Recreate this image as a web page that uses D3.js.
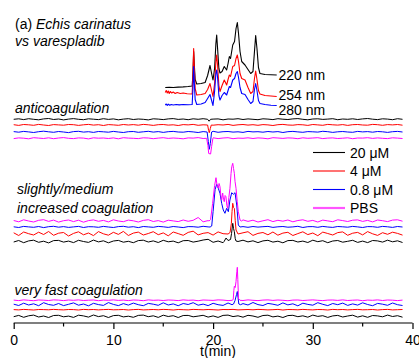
<!DOCTYPE html>
<html><head><meta charset="utf-8">
<script src="https://cdn.jsdelivr.net/npm/d3@7"></script>
<style>
html,body{margin:0;padding:0;background:#fff;}
svg{display:block;font-family:"Liberation Sans",Arial,sans-serif;}
</style></head><body>
<svg id="c" width="419" height="358"></svg>
<script>
// ---------- DATA ----------
const xTicks = [0, 10, 20, 30, 40];
const xMinorTicks = [5, 15, 25, 35];
const step = 0.5; // sampling interval (min) of baseline records
const nSamples = 79; // 0 .. 39 min

// UV chromatograms (time, absorbance a.u.)
const uv220 = [[15.2,236],[15.6,236.3],[16,236],[16.5,236.4],[17,236.6],[17.5,237],[17.9,237.5],[17.98,250],[18.05,272],[18.12,258],[18.2,244],[18.36,239.5],[18.8,240],[19.2,241],[19.45,248],[19.69,258],[19.85,250],[19.99,243.5],[20.15,255],[20.28,280],[20.36,288.5],[20.45,275],[20.58,255],[20.69,250.5],[20.9,252],[21.12,257],[21.36,253.5],[21.5,260],[21.63,267],[21.75,265],[21.97,278.5],[22.15,282],[22.3,295],[22.43,301],[22.55,290],[22.7,272],[22.87,262],[23.2,258.5],[23.5,254],[23.77,250],[24.0,252],[24.15,272],[24.27,288],[24.4,275],[24.55,256],[24.7,250],[25.2,249],[25.8,248.8],[26.38,248.5]];
const uv254 = [[15.2,231],[15.3,233],[15.4,230.5],[15.5,232.5],[15.6,230],[15.7,232],[15.85,230.5],[16,231.5],[16.2,230],[16.4,231],[16.7,230],[17,230.5],[17.4,229.8],[17.9,229.5],[17.98,250],[18.05,275],[18.12,255],[18.2,235],[18.36,228.5],[18.8,229],[19.2,230],[19.45,234],[19.69,240],[19.85,233],[19.99,227],[20.15,240],[20.28,262],[20.36,268.5],[20.45,258],[20.58,238],[20.69,232],[20.9,238],[21.12,243.5],[21.36,238.5],[21.5,244],[21.63,248.5],[21.75,247],[21.97,257],[22.15,258],[22.3,265],[22.43,268.5],[22.55,262],[22.7,250],[22.87,245],[23.2,243.5],[23.5,236],[23.77,230],[24.0,232],[24.15,245],[24.27,252.5],[24.4,244],[24.55,233],[24.7,229.5],[25.2,228],[25.8,227.5],[26.38,227]];
const uv280 = [[15.2,218.5],[15.3,219.5],[15.4,218],[15.5,219.3],[15.65,218.2],[15.8,219],[16,218.5],[16.3,219],[16.6,218.6],[17,219],[17.5,218.8],[17.9,219],[17.98,235],[18.05,257],[18.12,240],[18.2,224],[18.36,219],[18.8,219.5],[19.2,221],[19.45,225],[19.69,229],[19.85,223],[19.99,218],[20.15,232],[20.28,250],[20.36,253.5],[20.45,246],[20.58,228],[20.69,223.5],[20.9,228],[21.12,231],[21.36,228.5],[21.5,233],[21.63,237],[21.75,236],[21.97,243.5],[22.15,245],[22.3,250],[22.43,252],[22.55,246],[22.7,236],[22.87,230],[23.2,229],[23.5,224],[23.77,220],[24.0,222],[24.15,234],[24.27,240],[24.4,233],[24.55,223],[24.7,220],[25.2,219],[25.8,218.3],[26.38,218]];
const uvLabels = ["220 nm", "254 nm", "280 nm"];

// Bioassay traces: baseline level, recorded fluctuations (every 0.5 min), and peak region records
const concLabels = ["20 \u03bcM", "4 \u03bcM", "0.8 \u03bcM", "PBS"];

// anticoagulation group
const antiLevels = [204.2, 198.5, 191.5, 185.2];
const antiNoiseK = [0,0.5,-0.3,0.6,0,-0.5,0.4,0.8,-0.2,0.3,-0.6,0.2,0.7,0,-0.4,0.5,0.1,-0.3,0.6,-0.1,0.4,-0.5,0.2,0.6,-0.2,0.3,0,-0.6,0.5,0.2,-0.3,0.4,0.7,-0.1,0.3,-0.4,0.5,0,0.6,-0.3,0.2,0.4,-0.5,0.3,0.1,0.6,-0.2,0.4,0,-0.4,0.5,0.2,-0.3,0.6,0.1,-0.2,0.4,0.7,0,-0.5,0.3,0.5,-0.1,0.2,0.6,-0.4,0.3,0,0.5,-0.2,0.4,0.8,0.1,-0.3,0.5,0.2,-0.4,0.6,0,0.3];
const antiNoiseR = [0.3,-0.4,0.5,0.2,-0.3,0.6,0,-0.5,0.4,0.1,-0.2,0.5,0.3,-0.4,0.2,0.6,-0.1,0.3,-0.5,0.4,0.1,-0.3,0.5,0,0.4,-0.2,0.6,0.2,-0.4,0.3,0.5,-0.1,0.2,-0.5,0.4,0.1,0.6,-0.3,0.2,0.5,-0.2,0.3,0,0.6,-0.4,0.2,0.5,-0.1,0.3,-0.3,0.4,0.1,-0.5,0.3,0.6,0,-0.2,0.4,0.2,-0.4,0.5,0.1,-0.3,0.6,0.2,-0.1,0.4,-0.4,0.3,0.5,0,-0.2,0.6,0.3,-0.3,0.4,0.1,0.5,-0.2,0.2];
const antiNoiseB = [0.4,-0.2,0.6,0.1,-0.5,0.3,0.8,0.2,-0.3,0.5,0,-0.6,0.4,0.7,-0.1,0.3,-0.4,0.5,0.2,-0.2,0.6,0,-0.5,0.3,0.5,-0.3,0.2,0.7,-0.1,0.4,-0.4,0.3,0.6,0,-0.2,0.5,0.1,-0.5,0.4,0.2,0.7,-0.3,0.3,0.5,-0.1,0.2,-0.4,0.6,0.1,0.3,-0.2,0.5,0,0.4,-0.5,0.3,0.6,0.1,-0.3,0.4,0.2,-0.1,0.7,0.3,-0.4,0.2,0.5,0,-0.3,0.6,0.1,0.4,-0.2,0.5,0.2,-0.4,0.3,0.6,0,0.2];
const antiNoiseM = [-0.3,0.4,0.1,-0.5,0.6,0.2,-0.2,0.5,-0.4,0.3,0.7,0,-0.3,0.4,0.2,-0.6,0.5,0.1,0.3,-0.2,0.4,-0.5,0.6,0.2,0,-0.3,0.5,0.3,-0.4,0.2,0.6,-0.1,0.3,0,-0.5,0.4,0.2,0.7,-0.2,0.1,0.5,-0.3,0.3,0.6,-0.4,0.2,0,0.5,-0.2,0.4,0.1,-0.5,0.6,0.3,-0.1,0.4,0.2,-0.4,0.5,0,0.3,0.6,-0.3,0.2,0.4,-0.2,0.1,0.5,-0.4,0.3,0.2,0.6,-0.1,0.4,0,-0.3,0.5,0.2,-0.2,0.4];
const antiPeakK = [[19.45,204.2],[19.6,202.3],[19.75,204.2]];
const antiPeakR = [[19.45,198.5],[19.55,193],[19.62,190.8],[19.72,195],[19.82,198.5]];
const antiPeakB = [[19.4,191.5],[19.52,182],[19.62,174.2],[19.72,180],[19.85,191.5]];
const antiPeakM = [[19.35,185.2],[19.48,178],[19.56,170],[19.75,169.5],[19.85,177],[19.98,185.2]];

// slightly/medium increased coagulation group
const midLevels = [82, 89.5, 96.5, 102.5];
const midNoiseK = [-0.5,1,-1.2,0.6,1.3,-0.8,0.3,-1.4,0.9,1.1,-0.6,0.4,-1.1,1.2,0,-0.9,1.4,-0.4,0.7,-1.3,0.5,1.1,-0.7,0.2,-1.2,0.9,1.3,-0.5,0.6,-1,1.2,-0.3,0.4,-1.3,0.8,1,-0.6,0.3,1.5,2.2,-0.8,0.5,-1.2,1,0.2,-0.9,1.3,-0.4,0.7,-1.1,0.6,1.2,-0.6,0.3,-1.3,0.9,1.1,-0.5,0.4,-1,1.3,-0.2,0.8,-1.2,0.5,1,-0.7,0.2,1.2,-0.9,0.4,-1.1,1,0.6,-0.6,1.3,-0.3,0.7,-1,0.5];
const midNoiseR = [1.2,-1.5,2,0.3,-1,1.8,-0.5,2.5,-1.3,0.8,1.5,-2,0.6,2.2,-0.8,1,-1.6,2.4,0.2,-1.2,1.7,-0.4,2.6,-1.5,0.9,1.9,-1,0.5,2.3,-0.7,1.1,-1.8,2,0.4,-1.3,1.6,2.8,-0.9,0.7,1.4,-1.1,2.1,0.3,-1.6,1.8,-0.5,1.2,2.3,-1.4,0.6,1.5,-0.8,2,-1.2,0.9,1.7,-1.5,0.4,2.2,-0.6,1,-1.7,1.9,0.5,-1,1.4,2.1,-1.3,0.8,1.6,-0.9,2.4,0.2,-1.4,1.3,-0.3,1.8,0.6,-1.1,1];
const midNoiseB = [0.2,-0.5,0.6,0.1,-0.3,0.5,-0.6,0.3,0.7,-0.2,0.4,-0.4,0.1,0.6,-0.5,0.3,0.2,-0.3,0.6,0,-0.5,0.4,0.7,-0.2,0.3,-0.6,0.5,0.1,-0.3,0.6,0.2,-0.4,0.5,0,-0.6,0.4,0.3,-0.2,0.7,0.1,-0.3,0.5,0.2,-0.5,0.6,0,0.4,-0.3,0.5,-0.1,0.3,0.6,-0.4,0.2,0.5,-0.2,0.1,0.7,-0.5,0.3,0.4,-0.3,0.6,0,-0.4,0.5,0.2,-0.2,0.6,0.1,-0.5,0.4,0.3,-0.3,0.6,0.2,-0.4,0.5,0,0.3];
const midNoiseM = [0.5,-0.8,1.2,0,-1,0.7,1.3,-0.4,0.9,-1.1,0.3,1,-0.6,0.8,-1.2,0.4,1.1,-0.3,0.6,-0.9,1.2,0,-0.7,0.9,0.2,-1,0.6,1.3,-0.5,0.4,-1.1,0.8,0.1,-0.6,1,-0.3,0.7,3.5,-0.8,0.4,0.9,-0.5,1.2,0.3,-0.9,0.6,1.1,-0.4,0.8,-1,0.2,1.3,-0.6,0.7,-0.2,1,-0.8,0.5,1.2,-0.3,0.6,-1,0.9,0.1,-0.7,1.2,0.4,-0.5,0.8,1.1,-0.4,0.6,-0.9,1,0.3,-0.6,0.9,1.2,-0.2,0.5];
const midPeakK = [[21.1,82],[21.3,85.5],[21.5,83],[21.75,84],[21.85,90],[21.97,100.2],[22.05,95],[22.13,91.8],[22.22,85],[22.3,82.5],[22.5,82]];
const midPeakR = [[21.5,89.5],[21.7,91],[21.83,100],[21.9,112],[21.97,120.2],[22.05,116],[22.13,115.2],[22.22,103],[22.3,93.5],[22.5,89.5]];
const midPeakB = [[19.7,96.5],[19.86,97.5],[20.0,112],[20.2,134],[20.36,139.2],[20.52,135.2],[20.69,130.2],[20.86,120.2],[21.02,113.5],[21.19,110.2],[21.36,115.2],[21.53,111.8],[21.69,123.5],[21.87,130.8],[22.03,129.2],[22.2,130.8],[22.37,118.5],[22.53,98.5],[22.7,96.5]];
const midPeakM = [[19.6,102.5],[19.75,104],[19.95,120],[20.15,138],[20.29,145.8],[20.4,138],[20.52,135.5],[20.6,140],[20.69,136.8],[20.78,128],[20.86,123.5],[20.96,130.5],[21.05,124],[21.12,121.8],[21.2,128],[21.29,126.8],[21.38,118],[21.46,115.2],[21.58,126],[21.69,135.2],[21.8,150],[21.87,156.8],[21.97,160.2],[22.05,155],[22.13,150.2],[22.2,142],[22.3,135.2],[22.42,122],[22.53,111.8],[22.7,103.5],[22.85,102.5]];

// very fast coagulation group
const fastLevels = [7.2, 13.8, 18.8, 23.2];
const fastNoiseK = [-0.4,0.9,-1,0.5,1.2,-0.7,0.3,-1.2,0.8,1,-0.5,0.2,-1.1,1.1,0.4,-0.8,1.3,-0.3,0.6,-1.2,0.7,1,-0.6,0.1,-1,0.9,1.2,-0.4,0.5,-1.1,1.1,-0.2,0.6,-1.2,0.8,0.9,-0.5,0.2,1,-0.8,0.4,-1.1,0.9,1.2,-0.3,0.5,-0.9,1,0.3,-1,0.8,1.1,-0.6,0.2,-1.2,0.7,1,-0.4,0.5,-0.9,1.2,-0.1,0.6,-1.1,0.4,0.9,-0.7,0.3,1.1,-0.8,0.5,-1,0.8,0.4,-0.5,1.2,-0.2,0.6,-0.9,0.3];
const fastNoiseR = [0.1,-0.2,0.3,0,-0.3,0.2,0.1,-0.1,0.3,0,-0.2,0.2,0.1,-0.3,0.3,0,0.2,-0.2,0.1,0.3,-0.1,0,0.2,-0.3,0.1,0.3,-0.2,0,0.2,-0.1,0.3,0.1,-0.3,0.2,0,-0.2,0.3,0.1,-0.1,0.2,0,-0.3,0.2,0.1,0.3,-0.2,0,0.2,-0.1,0.3,0.1,-0.2,0,0.3,-0.3,0.2,0.1,-0.1,0.3,0,-0.2,0.2,0.1,-0.3,0.3,0,0.2,-0.2,0.1,0.3,-0.1,0,0.2,-0.3,0.1,0.3,-0.2,0,0.2,-0.1];
const fastNoiseB = [0.5,-0.8,1.5,-0.3,0.9,-1,2,0.2,-0.6,1.2,-0.9,0.4,1.8,-0.5,0.7,-1.1,1.4,0.1,-0.7,2.1,0.3,-0.9,1.1,-0.4,1.6,0,-1,1.3,0.5,-0.6,1.9,-0.3,0.8,-1,1.2,0.2,2,-0.5,0.6,-0.9,1.4,0,-0.7,1.7,0.4,-1,1.1,-0.3,2.2,0.1,-0.8,1.3,0.5,-0.6,1.8,-0.2,0.9,-1.1,1.5,0.3,-0.5,2,0.4,-0.9,1.2,0,1.6,-0.7,0.8,-0.4,1.9,0.2,-1,1.3,0.5,-0.6,1.7,0,-0.8,1];
const fastNoiseM = [0.2,-0.3,0.4,0,-0.4,0.3,0.1,-0.2,0.4,0.2,-0.3,0.3,0,0.4,-0.2,0.1,0.3,-0.4,0.2,0,0.4,-0.1,0.2,-0.3,0.3,0.1,-0.4,0.4,0,0.2,-0.2,0.3,0.1,-0.3,0.4,0,0.2,-0.4,0.3,0.1,-0.1,0.4,0.2,-0.3,0.1,0.3,-0.2,0.4,0,-0.3,0.2,0.4,-0.1,0.3,0,-0.4,0.2,0.3,-0.2,0.1,0.4,0,-0.3,0.2,0.3,-0.1,0.4,-0.2,0.1,0.3,-0.4,0.2,0,0.4,-0.2,0.3,0.1,-0.3,0.2,0];
const fastPeakK = [];
const fastPeakR = [];
const fastPeakB = [[21.9,18.8],[22.05,19.5],[22.2,23],[22.35,29],[22.43,32],[22.5,26],[22.58,19.5],[22.75,18.8]];
const fastPeakM = [[21.9,23.2],[22.02,24],[22.08,33],[22.13,37.2],[22.22,36],[22.3,42],[22.38,52],[22.43,56.2],[22.48,44],[22.55,25],[22.7,23.2]];

// ---------- DRAWING ----------
const svg = d3.select("#c");
const x = d3.scaleLinear().domain([0, 40]).range([13.7, 412.5]);
const y = d3.scaleLinear().domain([0, 300]).range([323.5, 23.5]);
const colors = ["#000000", "#ff0000", "#0000ff", "#ff00ff"];
const line = d3.line().x(d => x(d[0])).y(d => y(d[1]));

function buildTrace(level, noise, peak) {
  const pts = [];
  const lo = peak.length ? peak[0][0] : Infinity;
  const hi = peak.length ? peak[peak.length - 1][0] : -Infinity;
  noise.slice(0, nSamples).forEach((n, i) => {
    const t = i * step;
    if (t < lo || t > hi) pts.push([t, level + n]);
  });
  peak.forEach(p => pts.push(p));
  pts.sort((a, b) => a[0] - b[0]);
  return pts;
}

const groups = [
  {levels: antiLevels, noise: [antiNoiseK, antiNoiseR, antiNoiseB, antiNoiseM], peaks: [antiPeakK, antiPeakR, antiPeakB, antiPeakM]},
  {levels: midLevels, noise: [midNoiseK, midNoiseR, midNoiseB, midNoiseM], peaks: [midPeakK, midPeakR, midPeakB, midPeakM]},
  {levels: fastLevels, noise: [fastNoiseK, fastNoiseR, fastNoiseB, fastNoiseM], peaks: [fastPeakK, fastPeakR, fastPeakB, fastPeakM]}
];

// draw order: black, red, blue, magenta (magenta on top)
groups.forEach(g => {
  [0, 1, 2, 3].forEach(i => {
    svg.append("path")
      .attr("d", line(buildTrace(g.levels[i], g.noise[i], g.peaks[i])))
      .attr("fill", "none").attr("stroke", colors[i]).attr("stroke-width", 1)
      .attr("stroke-linejoin", "round");
  });
});

// UV chromatograms
[uv220, uv254, uv280].forEach((d, i) => {
  svg.append("path").attr("d", line(d))
    .attr("fill", "none").attr("stroke", colors[i]).attr("stroke-width", 1.1)
    .attr("stroke-linejoin", "round");
});
const uvLabelY = [80, 100, 115];
uvLabels.forEach((t, i) => {
  svg.append("text").attr("x", 278.5).attr("y", uvLabelY[i])
    .attr("font-size", 14).attr("fill", "#000").text(t);
});

// x axis
const axis = d3.axisBottom(x).tickValues(xTicks).tickSize(6).tickFormat(d3.format("d"));
const gAx = svg.append("g").attr("transform", "translate(0,323)").call(axis);
gAx.select(".domain").attr("stroke", "#000").attr("stroke-width", 1.2).attr("d", `M${x(0)},0H${x(40)}`);
gAx.selectAll(".tick line").attr("stroke", "#000").attr("stroke-width", 1.2);
gAx.selectAll(".tick text").attr("font-size", 14).attr("font-family", "Liberation Sans, Arial, sans-serif").attr("fill", "#000").attr("dy", "0.95em");
const gMinor = svg.append("g").attr("transform", "translate(0,323)");
gMinor.selectAll("line").data(xMinorTicks).join("line")
  .attr("x1", d => x(d)).attr("x2", d => x(d)).attr("y1", 0).attr("y2", 3.5)
  .attr("stroke", "#000").attr("stroke-width", 1.2);
svg.append("text").attr("x", 218).attr("y", 356).attr("text-anchor", "middle")
  .attr("font-size", 14).text("t(min)");

// legend
const legY = [152.5, 171, 189.5, 208];
const legTxtY = [157.5, 176, 194.5, 212.5];
concLabels.forEach((t, i) => {
  svg.append("line").attr("x1", 313).attr("x2", 345).attr("y1", legY[i]).attr("y2", legY[i])
    .attr("stroke", i === 3 ? "#ff55ff" : colors[i]).attr("stroke-width", i === 3 ? 2.2 : 1.1);
  svg.append("text").attr("x", 350).attr("y", legTxtY[i]).attr("font-size", 14).text(t);
});

// annotations
const title = svg.append("text").attr("x", 15).attr("y", 28.5).attr("font-size", 14);
title.append("tspan").text("(a) ");
title.append("tspan").attr("font-style", "italic").text("Echis carinatus");
svg.append("text").attr("x", 15).attr("y", 45.5).attr("font-size", 14).attr("font-style", "italic").text("vs varespladib");
svg.append("text").attr("x", 15).attr("y", 112.5).attr("font-size", 14).attr("font-style", "italic").text("anticoagulation");
svg.append("text").attr("x", 17).attr("y", 194).attr("font-size", 14).attr("font-style", "italic").text("slightly/medium");
svg.append("text").attr("x", 17).attr("y", 212.5).attr("font-size", 14).attr("font-style", "italic").text("increased coagulation");
svg.append("text").attr("x", 14.5).attr("y", 295).attr("font-size", 14).attr("font-style", "italic").text("very fast coagulation");
</script>
</body></html>
